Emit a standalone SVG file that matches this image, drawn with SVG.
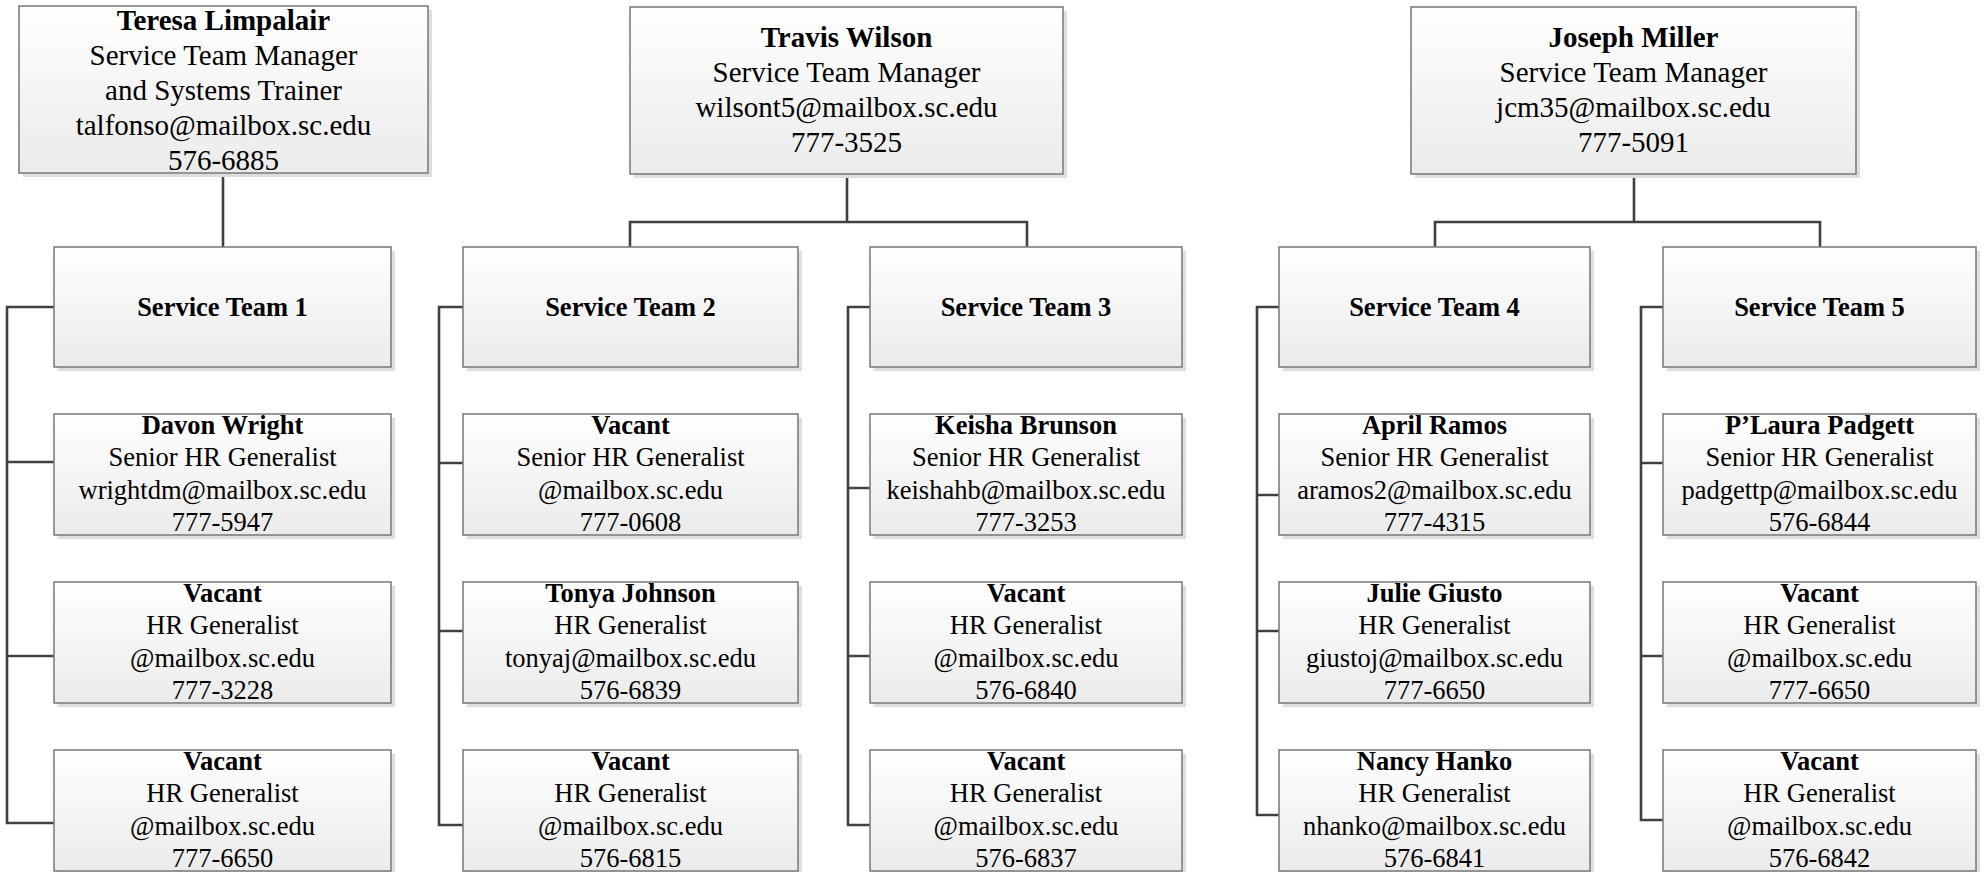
<svg xmlns="http://www.w3.org/2000/svg" width="1984" height="872" viewBox="0 0 1984 872">
<defs>
<linearGradient id="g" x1="0" y1="0" x2="0" y2="1">
<stop offset="0" stop-color="#ffffff"/>
<stop offset="1" stop-color="#ebebeb"/>
</linearGradient>
</defs>
<style>
.box{fill:url(#g);stroke:#7f7f7f;stroke-width:1.6}
.sh{fill:#dedede}
.t{font-family:"Liberation Serif","Times New Roman",serif;fill:#000;text-anchor:middle}
.m{font-size:29px}
.e{font-size:26.5px}
.b{font-weight:bold}
.c{fill:none;stroke:#404040;stroke-width:2.6}
</style>
<rect width="1984" height="872" fill="#ffffff"/>
<g id="connectors">
<path class="c" d="M223,173V247"/>
<path class="c" d="M847,174V222M630,247V222H1027V247"/>
<path class="c" d="M1634,174V222M1435,247V222H1820V247"/>
<path class="c" d="M54,307H7V823H54M7,462H54M7,656H54"/>
<path class="c" d="M463,307H439V825H463M439,463H463M439,631H463"/>
<path class="c" d="M870,307H848V825H870M848,488H870M848,656H870"/>
<path class="c" d="M1279,307H1257V815H1279M1257,495H1279M1257,631H1279"/>
<path class="c" d="M1663,307H1641V820H1663M1641,463H1663M1641,656H1663"/>
</g>
<g id="teresa">
<rect class="sh" x="23" y="10" width="409" height="167"/>
<rect class="box" x="19" y="6" width="409" height="167"/>
<text class="t m"><tspan class="b" x="223.5" y="29.5">Teresa Limpalair</tspan><tspan x="223.5" y="64.7">Service Team Manager</tspan><tspan x="223.5" y="99.9">and Systems Trainer</tspan><tspan x="223.5" y="135.1">talfonso@mailbox.sc.edu</tspan><tspan x="223.5" y="170.3">576-6885</tspan></text>
</g>
<g id="travis">
<rect class="sh" x="634" y="11" width="433" height="167"/>
<rect class="box" x="630" y="7" width="433" height="167"/>
<text class="t m"><tspan class="b" x="846.5" y="47">Travis Wilson</tspan><tspan x="846.5" y="82">Service Team Manager</tspan><tspan x="846.5" y="117">wilsont5@mailbox.sc.edu</tspan><tspan x="846.5" y="152">777-3525</tspan></text>
</g>
<g id="joseph">
<rect class="sh" x="1415" y="11" width="445" height="167"/>
<rect class="box" x="1411" y="7" width="445" height="167"/>
<text class="t m"><tspan class="b" x="1633.5" y="47">Joseph Miller</tspan><tspan x="1633.5" y="82">Service Team Manager</tspan><tspan x="1633.5" y="117">jcm35@mailbox.sc.edu</tspan><tspan x="1633.5" y="152">777-5091</tspan></text>
</g>
<g id="team1">
<rect class="sh" x="58" y="251" width="337" height="120"/>
<rect class="box" x="54" y="247" width="337" height="120"/>
<text class="t e b" x="222.5" y="315.5">Service Team 1</text>
</g>
<g id="team2">
<rect class="sh" x="467" y="251" width="335" height="120"/>
<rect class="box" x="463" y="247" width="335" height="120"/>
<text class="t e b" x="630.5" y="315.5">Service Team 2</text>
</g>
<g id="team3">
<rect class="sh" x="874" y="251" width="312" height="120"/>
<rect class="box" x="870" y="247" width="312" height="120"/>
<text class="t e b" x="1026" y="315.5">Service Team 3</text>
</g>
<g id="team4">
<rect class="sh" x="1283" y="251" width="311" height="120"/>
<rect class="box" x="1279" y="247" width="311" height="120"/>
<text class="t e b" x="1434.5" y="315.5">Service Team 4</text>
</g>
<g id="team5">
<rect class="sh" x="1667" y="251" width="313" height="120"/>
<rect class="box" x="1663" y="247" width="313" height="120"/>
<text class="t e b" x="1819.5" y="315.5">Service Team 5</text>
</g>

<g id="davon">
<rect class="sh" x="58" y="418" width="337" height="121"/>
<rect class="box" x="54" y="414" width="337" height="121"/>
<text class="t e"><tspan class="b" x="222.5" y="434">Davon Wright</tspan><tspan x="222.5" y="466.3">Senior HR Generalist</tspan><tspan x="222.5" y="498.6">wrightdm@mailbox.sc.edu</tspan><tspan x="222.5" y="531">777-5947</tspan></text>
</g>
<g id="vacant-1b">
<rect class="sh" x="58" y="586" width="337" height="121"/>
<rect class="box" x="54" y="582" width="337" height="121"/>
<text class="t e"><tspan class="b" x="222.5" y="602">Vacant</tspan><tspan x="222.5" y="634.3">HR Generalist</tspan><tspan x="222.5" y="666.6">@mailbox.sc.edu</tspan><tspan x="222.5" y="699">777-3228</tspan></text>
</g>
<g id="vacant-1c">
<rect class="sh" x="58" y="754" width="337" height="121"/>
<rect class="box" x="54" y="750" width="337" height="121"/>
<text class="t e"><tspan class="b" x="222.5" y="770">Vacant</tspan><tspan x="222.5" y="802.3">HR Generalist</tspan><tspan x="222.5" y="834.6">@mailbox.sc.edu</tspan><tspan x="222.5" y="867">777-6650</tspan></text>
</g>

<g id="vacant-2a">
<rect class="sh" x="467" y="418" width="335" height="121"/>
<rect class="box" x="463" y="414" width="335" height="121"/>
<text class="t e"><tspan class="b" x="630.5" y="434">Vacant</tspan><tspan x="630.5" y="466.3">Senior HR Generalist</tspan><tspan x="630.5" y="498.6">@mailbox.sc.edu</tspan><tspan x="630.5" y="531">777-0608</tspan></text>
</g>
<g id="tonya">
<rect class="sh" x="467" y="586" width="335" height="121"/>
<rect class="box" x="463" y="582" width="335" height="121"/>
<text class="t e"><tspan class="b" x="630.5" y="602">Tonya Johnson</tspan><tspan x="630.5" y="634.3">HR Generalist</tspan><tspan x="630.5" y="666.6">tonyaj@mailbox.sc.edu</tspan><tspan x="630.5" y="699">576-6839</tspan></text>
</g>
<g id="vacant-2c">
<rect class="sh" x="467" y="754" width="335" height="121"/>
<rect class="box" x="463" y="750" width="335" height="121"/>
<text class="t e"><tspan class="b" x="630.5" y="770">Vacant</tspan><tspan x="630.5" y="802.3">HR Generalist</tspan><tspan x="630.5" y="834.6">@mailbox.sc.edu</tspan><tspan x="630.5" y="867">576-6815</tspan></text>
</g>

<g id="keisha">
<rect class="sh" x="874" y="418" width="312" height="121"/>
<rect class="box" x="870" y="414" width="312" height="121"/>
<text class="t e"><tspan class="b" x="1026" y="434">Keisha Brunson</tspan><tspan x="1026" y="466.3">Senior HR Generalist</tspan><tspan x="1026" y="498.6">keishahb@mailbox.sc.edu</tspan><tspan x="1026" y="531">777-3253</tspan></text>
</g>
<g id="vacant-3b">
<rect class="sh" x="874" y="586" width="312" height="121"/>
<rect class="box" x="870" y="582" width="312" height="121"/>
<text class="t e"><tspan class="b" x="1026" y="602">Vacant</tspan><tspan x="1026" y="634.3">HR Generalist</tspan><tspan x="1026" y="666.6">@mailbox.sc.edu</tspan><tspan x="1026" y="699">576-6840</tspan></text>
</g>
<g id="vacant-3c">
<rect class="sh" x="874" y="754" width="312" height="121"/>
<rect class="box" x="870" y="750" width="312" height="121"/>
<text class="t e"><tspan class="b" x="1026" y="770">Vacant</tspan><tspan x="1026" y="802.3">HR Generalist</tspan><tspan x="1026" y="834.6">@mailbox.sc.edu</tspan><tspan x="1026" y="867">576-6837</tspan></text>
</g>

<g id="april">
<rect class="sh" x="1283" y="418" width="311" height="121"/>
<rect class="box" x="1279" y="414" width="311" height="121"/>
<text class="t e"><tspan class="b" x="1434.5" y="434">April Ramos</tspan><tspan x="1434.5" y="466.3">Senior HR Generalist</tspan><tspan x="1434.5" y="498.6">aramos2@mailbox.sc.edu</tspan><tspan x="1434.5" y="531">777-4315</tspan></text>
</g>
<g id="julie">
<rect class="sh" x="1283" y="586" width="311" height="121"/>
<rect class="box" x="1279" y="582" width="311" height="121"/>
<text class="t e"><tspan class="b" x="1434.5" y="602">Julie Giusto</tspan><tspan x="1434.5" y="634.3">HR Generalist</tspan><tspan x="1434.5" y="666.6">giustoj@mailbox.sc.edu</tspan><tspan x="1434.5" y="699">777-6650</tspan></text>
</g>
<g id="nancy">
<rect class="sh" x="1283" y="754" width="311" height="121"/>
<rect class="box" x="1279" y="750" width="311" height="121"/>
<text class="t e"><tspan class="b" x="1434.5" y="770">Nancy Hanko</tspan><tspan x="1434.5" y="802.3">HR Generalist</tspan><tspan x="1434.5" y="834.6">nhanko@mailbox.sc.edu</tspan><tspan x="1434.5" y="867">576-6841</tspan></text>
</g>

<g id="plaura">
<rect class="sh" x="1667" y="418" width="313" height="121"/>
<rect class="box" x="1663" y="414" width="313" height="121"/>
<text class="t e"><tspan class="b" x="1819.5" y="434">P’Laura Padgett</tspan><tspan x="1819.5" y="466.3">Senior HR Generalist</tspan><tspan x="1819.5" y="498.6">padgettp@mailbox.sc.edu</tspan><tspan x="1819.5" y="531">576-6844</tspan></text>
</g>
<g id="vacant-5b">
<rect class="sh" x="1667" y="586" width="313" height="121"/>
<rect class="box" x="1663" y="582" width="313" height="121"/>
<text class="t e"><tspan class="b" x="1819.5" y="602">Vacant</tspan><tspan x="1819.5" y="634.3">HR Generalist</tspan><tspan x="1819.5" y="666.6">@mailbox.sc.edu</tspan><tspan x="1819.5" y="699">777-6650</tspan></text>
</g>
<g id="vacant-5c">
<rect class="sh" x="1667" y="754" width="313" height="121"/>
<rect class="box" x="1663" y="750" width="313" height="121"/>
<text class="t e"><tspan class="b" x="1819.5" y="770">Vacant</tspan><tspan x="1819.5" y="802.3">HR Generalist</tspan><tspan x="1819.5" y="834.6">@mailbox.sc.edu</tspan><tspan x="1819.5" y="867">576-6842</tspan></text>
</g>
</svg>
